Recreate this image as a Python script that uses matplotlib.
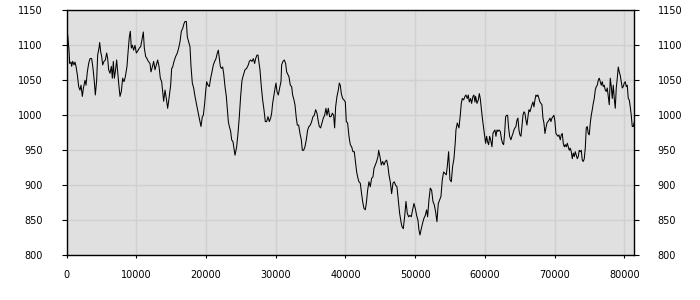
import matplotlib
matplotlib.use("Agg")
import matplotlib.pyplot as plt

x_vals = [0, 167, 358, 454, 645, 741, 884, 1075, 1219, 1362, 1553, 1744, 1935, 2079, 2270, 2413, 2652, 2796, 2987, 3178, 3369, 3608, 3799, 3990, 4134, 4325, 4468, 4660, 4755, 4898, 5042, 5185, 5376, 5567, 5759, 5902, 6045, 6236, 6428, 6571, 6714, 6858, 7001, 7192, 7336, 7479, 7670, 7862, 8053, 8244, 8435, 8674, 8817, 9008, 9151, 9295, 9438, 9630, 9821, 10012, 10155, 10442, 10633, 10824, 11015, 11159, 11350, 11541, 11732, 11971, 12115, 12306, 12497, 12689, 12880, 13071, 13262, 13453, 13645, 13788, 13931, 14122, 14314, 14505, 14696, 14935, 15078, 15222, 15413, 15652, 15891, 16082, 16273, 16464, 16656, 16847, 16990, 17181, 17324, 17516, 17707, 17850, 18041, 18233, 18424, 18615, 18758, 18950, 19141, 19284, 19475, 19619, 19810, 19953, 20097, 20288, 20479, 20670, 20862, 21053, 21244, 21435, 21627, 21770, 21913, 22056, 22200, 22391, 22534, 22726, 22917, 23060, 23204, 23347, 23538, 23682, 23873, 24016, 24160,
          24397, 24588, 24779, 24970, 25161, 25352, 25591, 25830, 26069, 26213, 26404, 26595, 26786, 26977, 27121, 27312, 27455, 27551, 27742, 27933, 28124, 28315, 28506, 28698, 28889, 29080, 29271, 29414, 29558, 29749, 29940, 30036, 30179, 30370, 30561, 30753, 30848, 31039, 31230, 31422, 31565, 31756, 31900, 32091, 32282, 32425, 32616, 32760, 32951, 33094, 33285, 33477, 33668, 33811, 34002, 34193, 34384, 34576, 34767, 34958, 35149, 35340, 35531, 35723, 35914, 36105, 36248, 36440, 36631, 36822, 37013, 37204, 37348, 37539, 37730, 37921, 38112, 38303, 38447, 38590, 38781, 38972, 39116, 39259, 39403, 39594, 39785, 39976, 40119, 40310, 40502, 40693, 40884, 41075, 41266, 41410, 41601, 41792, 41935, 42126, 42270, 42461, 42652, 42843, 42987, 43178, 43369, 43560, 43751, 43942, 44086, 44277, 44468, 44659, 44755, 44946, 45137, 45328, 45519, 45711, 45902, 46093, 46236, 46427, 46618, 46810, 47001, 47192, 47383, 47574, 47765, 47957, 48100, 48291, 48482, 48673, 48865, 49056, 49247, 49438, 49629, 49820, 50012, 50203, 50394, 50537, 50681, 50872, 51063, 51254, 51445, 51637, 51780, 51971, 52162, 52353, 52544, 52736, 52927, 53118, 53309, 53500, 53691, 53883, 54074, 54265, 54456, 54600, 54791, 54982, 55173, 55364, 55555, 55747, 55842, 56033,
          56272, 56463, 56607, 56750, 56941, 57132, 57276, 57467, 57610, 57754, 57945, 58088, 58279, 58423, 58566, 58662, 58853, 59044, 59187, 59331, 59474, 59665, 59808, 59952, 60095, 60239, 60382, 60525, 60669, 60812, 61003, 61147, 61290, 61433, 61577, 61720, 61863, 62007, 62198, 62389, 62533, 62676, 62819, 62963, 63106, 63249, 63393, 63536, 63727, 63871, 64014, 64157, 64301, 64444, 64587, 64731, 64874, 65018, 65161, 65304, 65448, 65591, 65734, 65878, 66021, 66165, 66308, 66451, 66595, 66738, 66881, 67025, 67168, 67312, 67455, 67598, 67742, 67885, 68028, 68172, 68315, 68458, 68602, 68745, 68889, 69032, 69175, 69319, 69462, 69605, 69749, 69892, 70035, 70179, 70322, 70466, 70609, 70800, 70943, 71087, 71230, 71374, 71517, 71660, 71804, 71947, 72090, 72234, 72377, 72520, 72664, 72807, 72951, 73094, 73237, 73381, 73524, 73667, 73811, 73954, 74097, 74241, 74384, 74528, 74671, 74814, 74958, 75101, 75244, 75388, 75531, 75674, 75818, 75961, 76105, 76248, 76391, 76535, 76678, 76821, 76965, 77108, 77251, 77395, 77538, 77682, 77825, 77968, 78112, 78255, 78398, 78542, 78685, 78828, 78972, 79115, 79258, 79402, 79545, 79688, 79832, 79975, 80118, 80262, 80405, 80548, 80692, 80835, 80978, 81122, 81265, 81400]

y_vals = [1103, 1115, 1093, 1074, 1076, 1070, 1077, 1072, 1076, 1070, 1058, 1041, 1036, 1043, 1027, 1038, 1050, 1043, 1062, 1074, 1081, 1081, 1067, 1048, 1029, 1050, 1086, 1096, 1104, 1091, 1084, 1072, 1077, 1079, 1089, 1081, 1065, 1060, 1070, 1053, 1077, 1053, 1062, 1079, 1062, 1046, 1027, 1034, 1053, 1048, 1055, 1070, 1089, 1112, 1120, 1096, 1100, 1093, 1100, 1089, 1091, 1096, 1098, 1108, 1119, 1096, 1084, 1081, 1077, 1074, 1062, 1069, 1077, 1065, 1072, 1079, 1070, 1053, 1048, 1034, 1020, 1036, 1024, 1010, 1024, 1043, 1067, 1069, 1077, 1084, 1089, 1096, 1105, 1120, 1124, 1131, 1134, 1134, 1112, 1105, 1098, 1070, 1046, 1039, 1027, 1017, 1010, 1000, 991, 984, 998, 1000, 1017, 1034, 1048, 1043, 1041, 1053, 1062, 1072, 1077, 1081, 1089, 1093, 1081, 1070, 1067, 1069, 1060, 1041, 1027, 1010, 991, 984, 977, 965, 962, 953, 943,
          955, 974, 998, 1027, 1050, 1057, 1065, 1067, 1072, 1077, 1079, 1077, 1081, 1074, 1081, 1086, 1086, 1079, 1065, 1041, 1022, 1008, 991, 991, 998, 991, 996, 1003, 1017, 1029, 1041, 1046, 1034, 1029, 1039, 1048, 1072, 1077, 1079, 1074, 1062, 1058, 1055, 1043, 1041, 1029, 1022, 1015, 996, 986, 986, 974, 965, 950, 950, 955, 965, 979, 984, 986, 991, 998, 1000, 1008, 1003, 991, 984, 982, 989, 996, 1000, 1010, 1000, 1010, 998, 998, 1003, 1000, 982, 1012, 1027, 1036, 1046, 1043, 1031, 1024, 1022, 1019, 991, 989, 970, 958, 955, 948, 948, 936, 919, 910, 905, 903, 891, 877, 867, 865, 874, 893, 905, 898, 910, 912, 924, 929, 934, 941, 950, 941, 929, 934, 929, 934, 936, 927, 915, 905, 888, 903, 905, 900, 898, 879, 860, 848, 841, 838, 855, 877, 860, 855, 857, 855, 865, 874, 867, 857, 850, 836, 829, 838, 846, 853, 857, 865, 855, 879, 896, 893, 877, 872, 862, 848, 874, 879, 884, 908, 919, 917, 915, 927, 948, 908, 905, 927, 938, 962, 979, 989,
          982, 1000, 1017, 1024, 1022, 1027, 1029, 1024, 1029, 1019, 1024, 1017, 1027, 1029, 1019, 1027, 1017, 1022, 1031, 1024, 1010, 993, 982, 970, 960, 970, 962, 958, 970, 965, 955, 974, 977, 979, 970, 979, 977, 979, 977, 965, 960, 958, 974, 998, 1000, 1000, 982, 970, 965, 970, 974, 979, 982, 984, 993, 996, 979, 972, 970, 984, 1000, 1005, 1003, 993, 986, 998, 1008, 1005, 1010, 1015, 1019, 1012, 1022, 1029, 1027, 1029, 1024, 1019, 1017, 1015, 996, 989, 974, 982, 989, 991, 993, 996, 991, 996, 998, 1000, 991, 974, 972, 970, 972, 965, 972, 974, 960, 955, 958, 955, 960, 955, 950, 953, 948, 938, 946, 941, 948, 943, 938, 941, 950, 948, 950, 936, 934, 938, 953, 982, 984, 974, 972, 989, 1000, 1008, 1017, 1024, 1036, 1041, 1043, 1050, 1053, 1048, 1043, 1048, 1041, 1043, 1036, 1034, 1039, 1027, 1015, 1053, 1041, 1024, 1043, 1024, 1010, 1039, 1053, 1069, 1062, 1057, 1048, 1039, 1041, 1046, 1048, 1041, 1043, 1024, 1022, 1012, 1000, 984, 984, 990]

x_ticks = [0, 10000, 20000, 30000, 40000, 50000, 60000, 70000, 80000]
y_ticks = [800, 850, 900, 950, 1000, 1050, 1100, 1150]

plt.rcParams['font.family'] = ['DejaVu Sans']
fig = plt.figure(figsize=(7, 3), dpi=100)
ax = fig.add_axes([0.095, 0.149, 0.811, 0.8167])
ax.set_facecolor('#e0e0e0')
ax.plot(x_vals, y_vals, color='black', linewidth=0.75)
ax.set_xlim(0, 81400)
ax.set_ylim(800, 1150)
ax.set_xticks(x_ticks)
ax.set_yticks(y_ticks)
ax.set_xticklabels([str(v) for v in x_ticks])
ax.set_yticklabels([str(v) for v in y_ticks])
ax.grid(True, color='#d0d0d0', linewidth=1.0)
ax.set_axisbelow(True)
for s in ax.spines.values():
    s.set_color('black')
    s.set_linewidth(1.0)
ax.tick_params(axis='y', left=True, right=True, labelleft=True, labelright=True,
               direction='out', length=3.5, pad=13.5, labelsize=7, color='black')
ax.tick_params(axis='x', bottom=True, direction='out', length=2.5, pad=8.3, labelsize=7, color='black')
fig.savefig('out.png', dpi=100)
